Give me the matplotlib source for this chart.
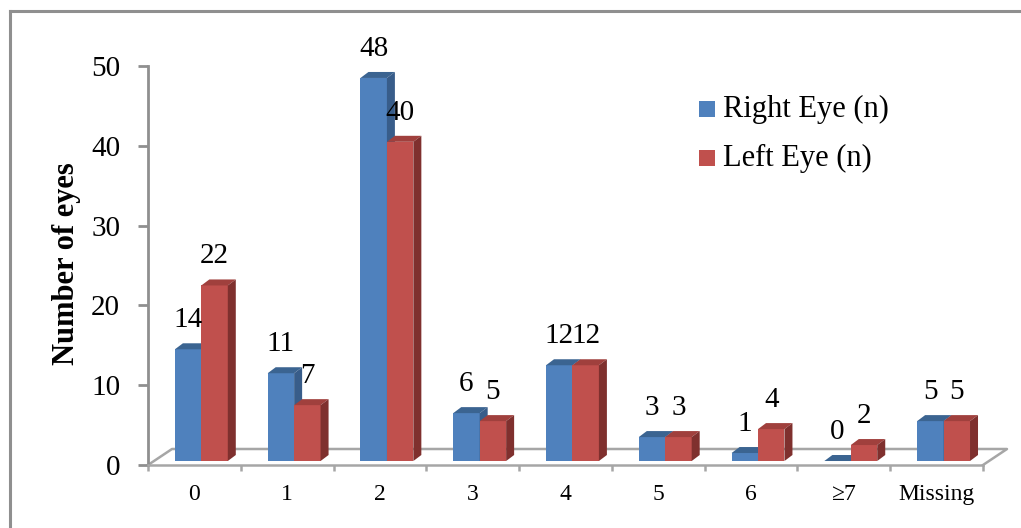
import matplotlib
matplotlib.use("Agg")
import matplotlib.pyplot as plt
from matplotlib.patches import Polygon, Rectangle
from matplotlib.lines import Line2D

# Data
categories = ["0", "1", "2", "3", "4", "5", "6", "\u22657", "Missing"]
right_eye = [14, 11, 48, 6, 12, 3, 1, 0, 5]
left_eye = [22, 7, 40, 5, 12, 3, 4, 2, 5]
series_names = ["Right Eye (n)", "Left Eye (n)"]

plt.rcParams["font.family"] = ["Liberation Serif", "DejaVu Serif"]

W, H = 1021, 528
fig = plt.figure(figsize=(W / 100, H / 100), dpi=100)
fig.patch.set_facecolor("white")

# plot area in pixels: x from 148 to 983, y value 0 at 465, 50 at 66
x0_px, x1_px = 148, 983
y0_px, y50_px = 465, 66
ax = fig.add_axes([x0_px / W, (H - y0_px) / H, (x1_px - x0_px) / W, (y0_px - y50_px) / H])
ax.set_xlim(-0.5, len(categories) - 0.5)
ax.set_ylim(0, 50)
ax.patch.set_visible(False)

px_x = (x1_px - x0_px) / len(categories)   # pixels per category
px_y = (y0_px - y50_px) / 50.0            # pixels per unit

grey = "#8f8f8f"

# floor of the 3-D plot
fdx, fdy = 24 / px_x, 16 / px_y
n = len(categories)
floor_pts = [(-0.5, 0), (-0.5 + fdx, fdy), (n - 0.5 + fdx, fdy), (n - 0.5, 0)]
ax.add_line(Line2D([p[0] for p in floor_pts], [p[1] for p in floor_pts],
                   color="#a6a6a6", lw=1.8, zorder=1, clip_on=False))

# bar geometry
base = 0.5
ddx, ddy = 8 / px_x, 6 / px_y
bw = 0.285
left_start = -0.21

colors = {
    0: ("#4f81bd", "#3b6491", "#385d8a"),
    1: ("#c0504d", "#a0403d", "#7f302e"),
}


def draw_bar(x_left, value, cols, z):
    front, top, side = cols
    ytop = base + value
    ax.add_patch(Rectangle((x_left, base), bw, value, facecolor=front,
                           edgecolor="none", zorder=z, clip_on=False))
    ax.add_patch(Polygon([(x_left, ytop), (x_left + bw, ytop),
                          (x_left + bw + ddx, ytop + ddy), (x_left + ddx, ytop + ddy)],
                         closed=True, facecolor=top, edgecolor="none", zorder=z, clip_on=False))
    ax.add_patch(Polygon([(x_left + bw, base), (x_left + bw + ddx, base + ddy),
                          (x_left + bw + ddx, ytop + ddy), (x_left + bw, ytop)],
                         closed=True, facecolor=side, edgecolor="none", zorder=z, clip_on=False))
    ax.annotate(str(value), xy=(x_left + bw / 2, ytop + ddy),
                xytext=(0, 11.5), textcoords="offset points",
                ha="center", va="baseline", fontsize=21, color="black",
                zorder=10, annotation_clip=False)


for i in range(n):
    draw_bar(i + left_start, right_eye[i], colors[0], 3 + 2 * i)
    draw_bar(i + left_start + bw, left_eye[i], colors[1], 4 + 2 * i)

# axes styling
for s in ["top", "right"]:
    ax.spines[s].set_visible(False)
ax.spines["left"].set_color(grey)
ax.spines["left"].set_linewidth(2)
ax.spines["bottom"].set_color("#a6a6a6")
ax.spines["bottom"].set_linewidth(1.8)

ax.set_yticks(range(0, 51, 10))
ax.tick_params(axis="y", direction="out", length=7, width=2, color=grey,
               labelsize=21, pad=13)

ax.set_xticks([i - 0.5 for i in range(n + 1)])
ax.set_xticklabels([])
ax.tick_params(axis="x", which="major", direction="out", length=4.5, width=1.8, color="#a6a6a6")
ax.set_xticks(range(n), categories, minor=True)
ax.tick_params(axis="x", which="minor", length=0, labelsize=17, pad=14)

ax.set_ylabel("Number of eyes", fontsize=22, fontweight="bold")
ax.yaxis.set_label_coords(-(x0_px - 81) / (x1_px - x0_px), (y0_px - 264) / (y0_px - y50_px))

# legend
for k, (name, cy) in enumerate(zip(series_names, [109, 158])):
    fig.patches.append(Rectangle((699 / W, (H - cy - 8) / H), 16 / W, 16 / H,
                                 transform=fig.transFigure, facecolor=colors[k][0],
                                 edgecolor="none"))
    fig.text(723 / W, (H - cy) / H, name, fontsize=22, va="center", ha="left")

# chart frame (left and top edges)
fig.add_artist(Line2D([9.5 / W, 9.5 / W], [0, (H - 11) / H], transform=fig.transFigure,
                      color=grey, lw=2.2))
fig.add_artist(Line2D([9.5 / W, 1], [(H - 11) / H, (H - 11) / H], transform=fig.transFigure,
                      color=grey, lw=2.2))

fig.savefig("out.png", dpi=100)
